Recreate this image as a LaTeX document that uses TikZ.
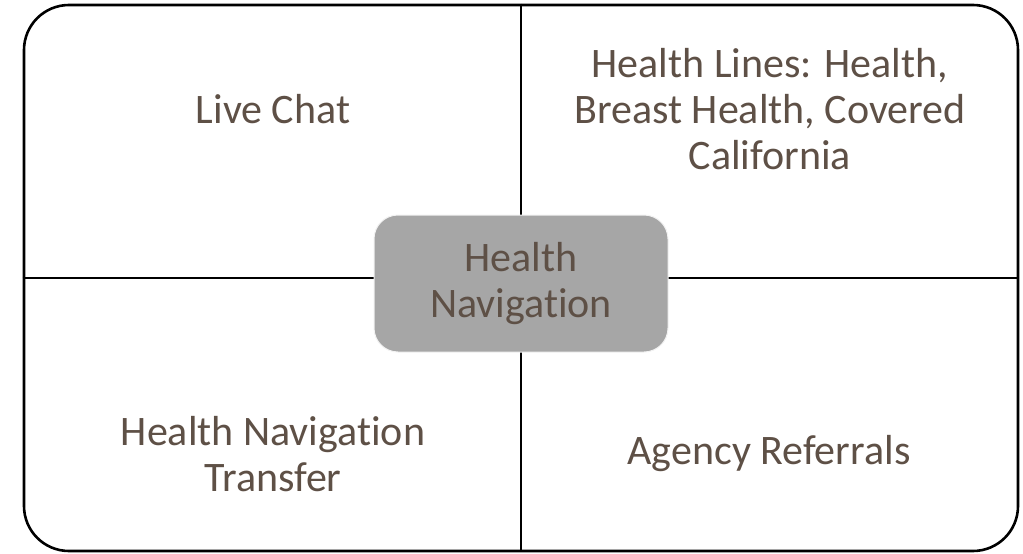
\documentclass[tikz,border=0pt]{standalone}
\usepackage{fontspec}
\setmainfont[Ligatures=NoCommon]{Carlito}
\usepackage{xcolor}
\definecolor{labeltext}{RGB}{94,80,70}
\definecolor{hubfill}{RGB}{166,166,166}
\begin{document}
\begin{tikzpicture}[x=1pt, y=-1pt,
every node/.style={font=\fontsize{42}{46}\selectfont, text=labeltext, align=center},
frame/.style={draw=black, line width=2.6pt, rounded corners=45pt, minimum width=994pt, minimum height=546pt},
hub/.style={fill=hubfill, draw=white!85!hubfill, line width=1pt, rounded corners=24pt, minimum width=294pt, minimum height=137pt}]
\useasboundingbox (0,0) rectangle (1023,554);
\node[frame] (frame) at (521,278) {};
\draw[line width=1.8pt] (frame.north) -- (frame.south);
\draw[line width=1.8pt] (frame.west) -- (frame.east);
\node[hub] (hub) at (521,283.5) {Health\\Navigation};
\node (chat) at (273,109) {Live Chat};
\node (lines) at (770,109) {Health Lines: Health,\\Breast Health, Covered\\California};
\node (transfer) at (273,454) {Health Navigation\\Transfer};
\node (referrals) at (769,454) {Agency Referrals};
\end{tikzpicture}
\end{document}
